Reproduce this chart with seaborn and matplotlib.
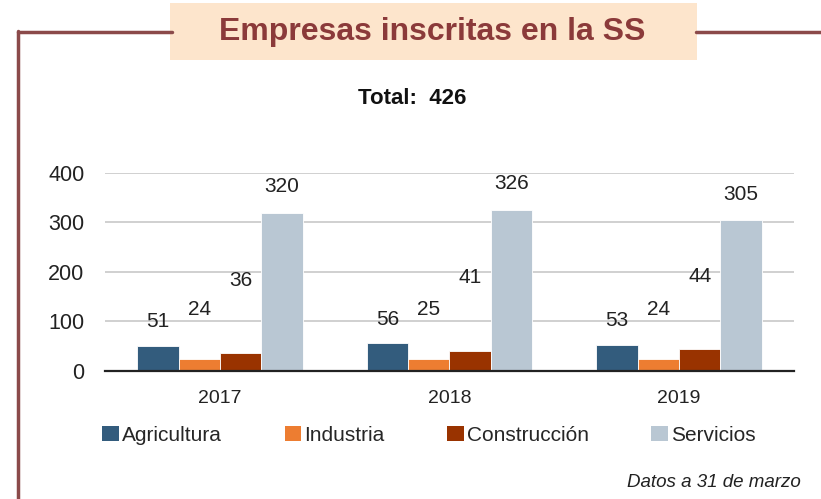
import matplotlib.pyplot as plt
import pandas as pd
import seaborn as sns
from matplotlib.patches import Rectangle
from matplotlib.lines import Line2D

years = ["2017", "2018", "2019"]
sectors = ["Agricultura", "Industria", "Construcción", "Servicios"]
agricultura = [51, 56, 53]
industria = [24, 25, 24]
construccion = [36, 41, 44]
servicios = [320, 326, 305]
total_label = "Total:  426"

colors = ["#335C7D", "#ED7D31", "#993300", "#B9C7D3"]
# vertical offsets for value labels (the original staggers them)
label_lift = [48, 100, 147, 52]

sns.set_theme(style="white")
plt.rcParams["font.family"] = ["Liberation Sans", "DejaVu Sans"]

df = pd.DataFrame({
    "year": years * 4,
    "sector": [s for s in sectors for _ in years],
    "value": agricultura + industria + construccion + servicios,
})

fig = plt.figure(figsize=(8.21, 4.99), dpi=100)
ax = fig.add_axes([0.128, 0.2565, 0.839, 0.397])

sns.barplot(data=df, x="year", y="value", hue="sector", order=years,
            hue_order=sectors, palette=colors, width=0.72, saturation=1,
            edgecolor="white", linewidth=0.6, legend=False, ax=ax)

ax.set_ylim(0, 400)
ax.set_yticks([0, 100, 200, 300, 400])
ax.yaxis.grid(True, color="#C8C8C8", linewidth=1.2)
ax.set_axisbelow(True)
for s in ["top", "right", "left"]:
    ax.spines[s].set_visible(False)
ax.spines["bottom"].set_color("#222222")
ax.spines["bottom"].set_linewidth(1.6)
ax.set_xlabel("")
ax.set_ylabel("")
ax.tick_params(axis="y", labelsize=15.5, pad=15, length=0, labelcolor="#222222")
ax.tick_params(axis="x", labelsize=14, pad=14, length=0, labelcolor="#222222")

for i, cont in enumerate(ax.containers):
    for bar in cont:
        h = bar.get_height()
        ax.text(bar.get_x() + bar.get_width() / 2, h + label_lift[i], f"{int(h)}",
                ha="center", va="center", fontsize=15, color="#222222")

# frame lines and title box
line_col = "#8B4A4A"
fig.add_artist(Line2D([0.022, 0.21], [0.936, 0.936], color=line_col, lw=2.5))
fig.add_artist(Line2D([0.848, 1.0], [0.936, 0.936], color=line_col, lw=2.5))
fig.add_artist(Line2D([0.022, 0.022], [0.0, 0.938], color=line_col, lw=2.5))
fig.add_artist(Rectangle((0.207, 0.88), 0.642, 0.113, transform=fig.transFigure,
                         facecolor="#FDE5CC", edgecolor="none"))
fig.text(0.527, 0.936, "Empresas inscritas en la SS", ha="center", va="center",
         fontsize=23, fontweight="bold", color="#8B3A3A",
         family=["Liberation Sans Narrow", "Liberation Sans", "DejaVu Sans"])
fig.text(0.502, 0.803, total_label, ha="center", va="center", fontsize=16,
         fontweight="bold", color="#111111",
         family=["Liberation Sans Narrow", "Liberation Sans", "DejaVu Sans"])

handles = [Rectangle((0, 0), 1, 1, facecolor=c, edgecolor="none") for c in colors]
fig.legend(handles, sectors, loc="center left", bbox_to_anchor=(0.102, 0.128),
           ncol=4, frameon=False, fontsize=15, handlelength=0.8, handleheight=0.8,
           handletextpad=0.15, columnspacing=3.0)

fig.text(0.975, 0.034, "Datos a 31 de marzo", ha="right", va="center",
         fontsize=13.5, style="italic", color="#222222",
         family=["Liberation Sans Narrow", "Liberation Sans", "DejaVu Sans"])

fig.savefig("out.png", dpi=100, facecolor="white")
